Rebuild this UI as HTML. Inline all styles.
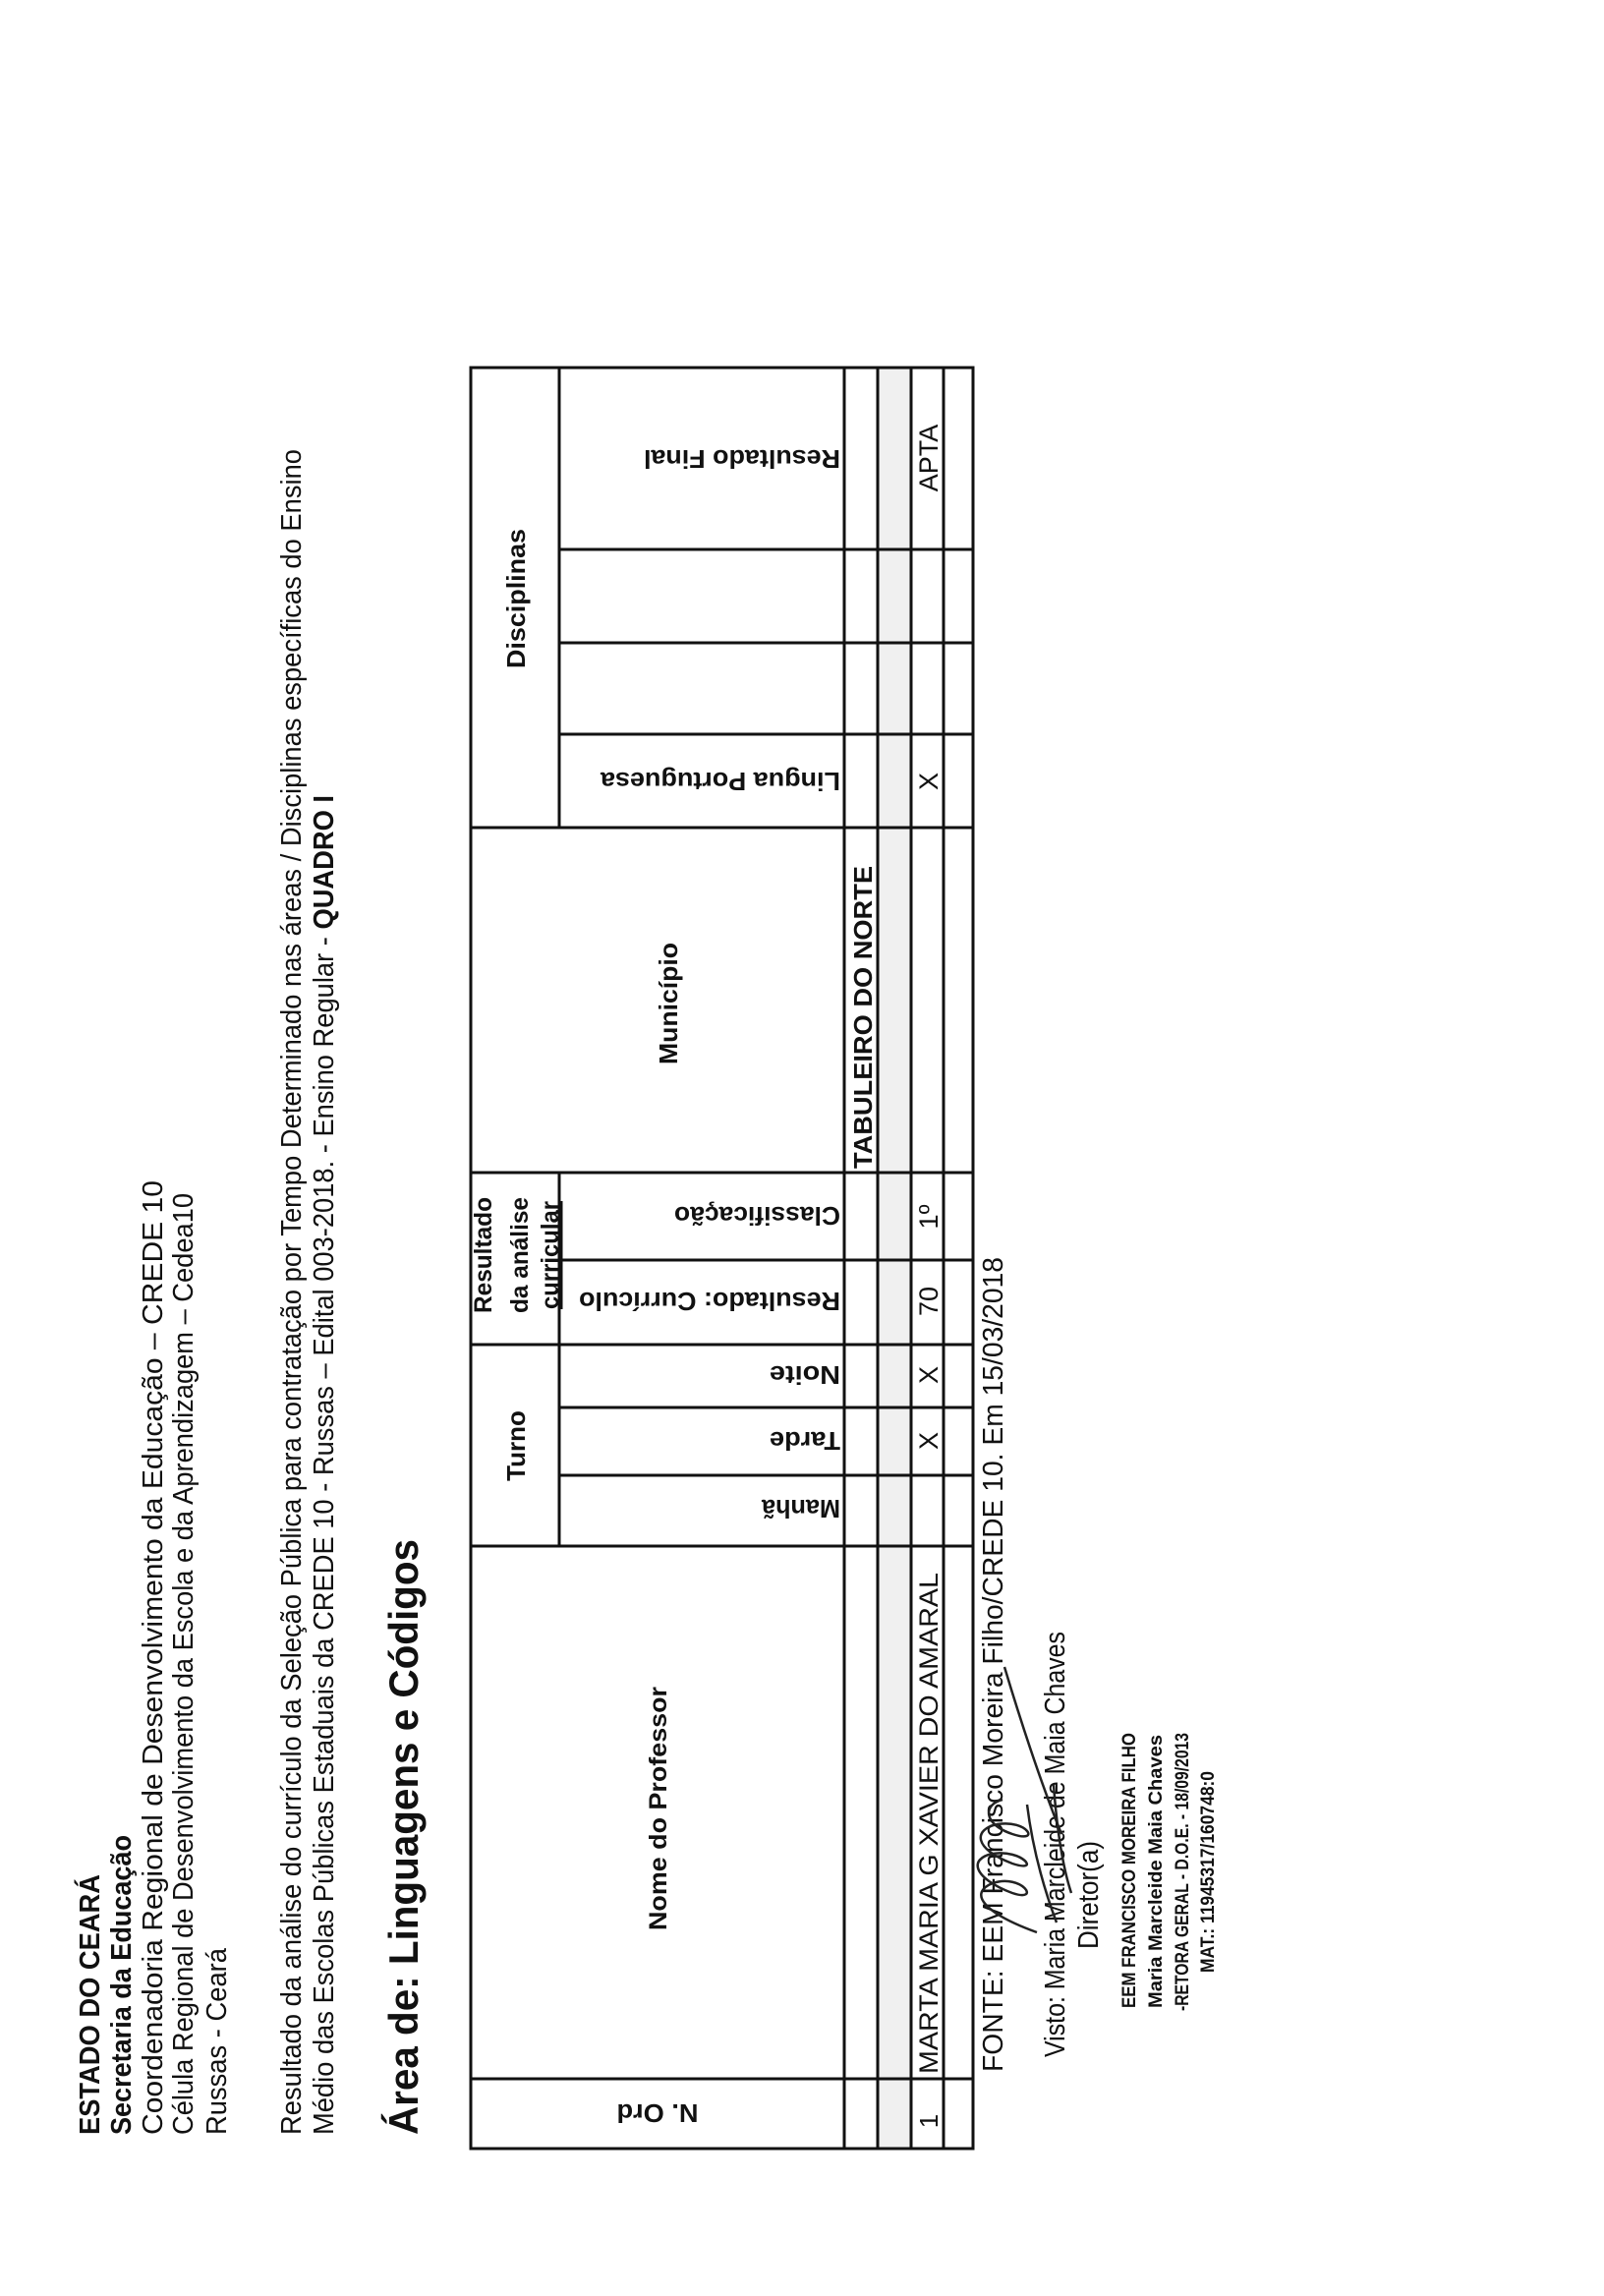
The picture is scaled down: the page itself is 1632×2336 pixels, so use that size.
<!DOCTYPE html>
<html><head><meta charset="utf-8">
<style>
html,body{margin:0;padding:0;background:#fff;}
#page{position:relative;width:1632px;height:2336px;overflow:hidden;background:#fff;}
#land{position:absolute;left:0;top:0;width:2336px;height:1632px;transform-origin:0 0;transform:translateY(2336px) rotate(-90deg);}
text{font-family:"Liberation Sans",Arial,sans-serif;fill:#111;}
.b{font-weight:bold;}
</style></head>
<body><div id="page"><div id="land">
<svg width="2336" height="1632" viewBox="0 0 2336 1632" xmlns="http://www.w3.org/2000/svg">
<rect x="150" y="893" width="1812" height="34" fill="#f0f0f0"/>
<text class="b" x="164" y="101" font-size="29" textLength="265" lengthAdjust="spacingAndGlyphs">ESTADO DO CEARÁ</text>
<text class="b" x="164" y="133" font-size="29" textLength="305" lengthAdjust="spacingAndGlyphs">Secretaria da Educação</text>
<text x="164" y="165" font-size="29" textLength="971" lengthAdjust="spacingAndGlyphs">Coordenadoria Regional de Desenvolvimento da Educação – CREDE 10</text>
<text x="164" y="196" font-size="29" textLength="958" lengthAdjust="spacingAndGlyphs">Célula Regional de Desenvolvimento da Escola e da Aprendizagem – Cedea10</text>
<text x="164" y="230" font-size="29" textLength="190" lengthAdjust="spacingAndGlyphs">Russas - Ceará</text>
<text x="164" y="306" font-size="29" textLength="1715" lengthAdjust="spacingAndGlyphs">Resultado da análise do currículo da Seleção Pública para contratação por Tempo Determinado nas áreas / Disciplinas específicas do Ensino</text>
<text x="164" y="339" font-size="29" textLength="1363" lengthAdjust="spacingAndGlyphs">Médio das Escolas  Públicas Estaduais da CREDE 10 - Russas – Edital 003-2018. - Ensino Regular - <tspan class="b">QUADRO I</tspan></text>
<text class="b" x="164" y="425" font-size="42" textLength="606" lengthAdjust="spacingAndGlyphs">Área de: Linguagens e Códigos</text>

<g stroke="#111" stroke-width="3" fill="none">
<rect x="150" y="479" width="1812" height="511"/>
<line x1="763" y1="569" x2="1143" y2="569"/>
<line x1="1494" y1="569" x2="1962" y2="569"/>
<line x1="150" y1="859" x2="1962" y2="859"/>
<line x1="150" y1="893" x2="1962" y2="893"/>
<line x1="150" y1="927" x2="1962" y2="927"/>
<line x1="150" y1="960" x2="1962" y2="960"/>
<line x1="221" y1="479" x2="221" y2="990"/>
<line x1="763" y1="479" x2="763" y2="990"/>
<line x1="968" y1="479" x2="968" y2="990"/>
<line x1="1143" y1="479" x2="1143" y2="990"/>
<line x1="1494" y1="479" x2="1494" y2="990"/>
<line x1="835" y1="569" x2="835" y2="990"/>
<line x1="904" y1="569" x2="904" y2="990"/>
<line x1="1054" y1="569" x2="1054" y2="990"/>
<line x1="1589" y1="569" x2="1589" y2="990"/>
<line x1="1682" y1="569" x2="1682" y2="990"/>
<line x1="1777" y1="569" x2="1777" y2="990"/>
</g>

<text class="b" x="496" y="678" font-size="25" text-anchor="middle" textLength="248" lengthAdjust="spacingAndGlyphs">Nome do Professor</text>
<text class="b" x="865" y="534" font-size="26" text-anchor="middle">Turno</text>
<text class="b" x="1059" y="500" font-size="25" text-anchor="middle" textLength="118" lengthAdjust="spacingAndGlyphs">Resultado</text>
<text class="b" x="1059" y="537" font-size="25" text-anchor="middle" textLength="118" lengthAdjust="spacingAndGlyphs">da análise</text>
<text class="b" x="1059" y="568" font-size="25" text-anchor="middle" textLength="110" lengthAdjust="spacingAndGlyphs" text-decoration="underline">curricular</text>
<text class="b" x="1315" y="689" font-size="26" text-anchor="middle" textLength="124" lengthAdjust="spacingAndGlyphs">Município</text>
<text class="b" x="1727" y="534" font-size="26" text-anchor="middle" textLength="142" lengthAdjust="spacingAndGlyphs">Disciplinas</text>

<g font-size="26">
<text transform="translate(195,669) rotate(-90)" text-anchor="middle" textLength="83" lengthAdjust="spacingAndGlyphs" font-weight="bold">N. Ord</text>
<text transform="translate(810,855) rotate(-90)" textLength="80" lengthAdjust="spacingAndGlyphs" font-weight="bold">Manhã</text>
<text transform="translate(879,855) rotate(-90)" textLength="72" lengthAdjust="spacingAndGlyphs" font-weight="bold">Tarde</text>
<text transform="translate(946,855) rotate(-90)" textLength="72" lengthAdjust="spacingAndGlyphs" font-weight="bold">Noite</text>
<text transform="translate(1021,855) rotate(-90)" textLength="266" lengthAdjust="spacingAndGlyphs" font-weight="bold">Resultado: Currículo</text>
<text transform="translate(1108,855) rotate(-90)" textLength="169" lengthAdjust="spacingAndGlyphs" font-weight="bold">Classificação</text>
<text transform="translate(1550,855) rotate(-90)" textLength="244" lengthAdjust="spacingAndGlyphs" font-weight="bold">Lingua Portuguesa</text>
<text transform="translate(1878,855) rotate(-90)" textLength="200" lengthAdjust="spacingAndGlyphs" font-weight="bold">Resultado Final</text>
</g>

<text class="b" x="1147" y="887" font-size="26" textLength="308" lengthAdjust="spacingAndGlyphs">TABULEIRO DO NORTE</text>
<text x="178" y="954" font-size="26" text-anchor="middle">1</text>
<text x="226" y="954" font-size="27" textLength="510" lengthAdjust="spacingAndGlyphs">MARTA MARIA G XAVIER DO AMARAL</text>
<text x="870" y="954" font-size="27" text-anchor="middle">X</text>
<text x="937" y="954" font-size="27" text-anchor="middle">X</text>
<text x="1012" y="954" font-size="27" text-anchor="middle">70</text>
<text x="1098" y="954" font-size="27" text-anchor="middle">1º</text>
<text x="1541" y="954" font-size="27" text-anchor="middle">X</text>
<text x="1870" y="954" font-size="27" text-anchor="middle">APTA</text>

<text x="228" y="1020" font-size="29" textLength="829" lengthAdjust="spacingAndGlyphs">FONTE: EEM Francisco Moreira Filho/CREDE 10. Em 15/03/2018</text>
<text x="243" y="1083" font-size="29" textLength="433" lengthAdjust="spacingAndGlyphs">Visto: Maria Marcleide de Maia Chaves</text>
<text x="353" y="1117" font-size="29" textLength="110" lengthAdjust="spacingAndGlyphs">Diretor(a)</text>
<g font-size="19">
<text x="293" y="1155" textLength="280" lengthAdjust="spacingAndGlyphs" font-weight="bold">EEM FRANCISCO MOREIRA FILHO</text>
<text x="293" y="1182" textLength="278" lengthAdjust="spacingAndGlyphs" font-weight="bold">Maria Marcleide Maia Chaves</text>
<text x="290" y="1209" textLength="283" lengthAdjust="spacingAndGlyphs" font-weight="bold">-RETORA GERAL - D.O.E. - 18/09/2013</text>
<text x="329" y="1235" textLength="205" lengthAdjust="spacingAndGlyphs" font-weight="bold">MAT.: 11945317/160748:0</text>
</g>
<g stroke="#222" stroke-width="2.5" fill="none">
<path d="M640 1022 C580 1040 520 1060 470 1080"/>
<path d="M370 1055 C390 1000 410 985 420 1010 C430 1040 400 1060 410 1030 C425 990 445 985 450 1010 C455 1040 430 1060 440 1030 C455 990 475 990 480 1015 C485 1045 460 1060 470 1030 C480 1000 500 1000 505 1020"/>
<path d="M380 1075 C420 1060 460 1050 500 1045"/>
<path d="M410 1090 C440 1080 480 1075 520 1072"/>
</g>
</svg>
</div></div></body></html>
